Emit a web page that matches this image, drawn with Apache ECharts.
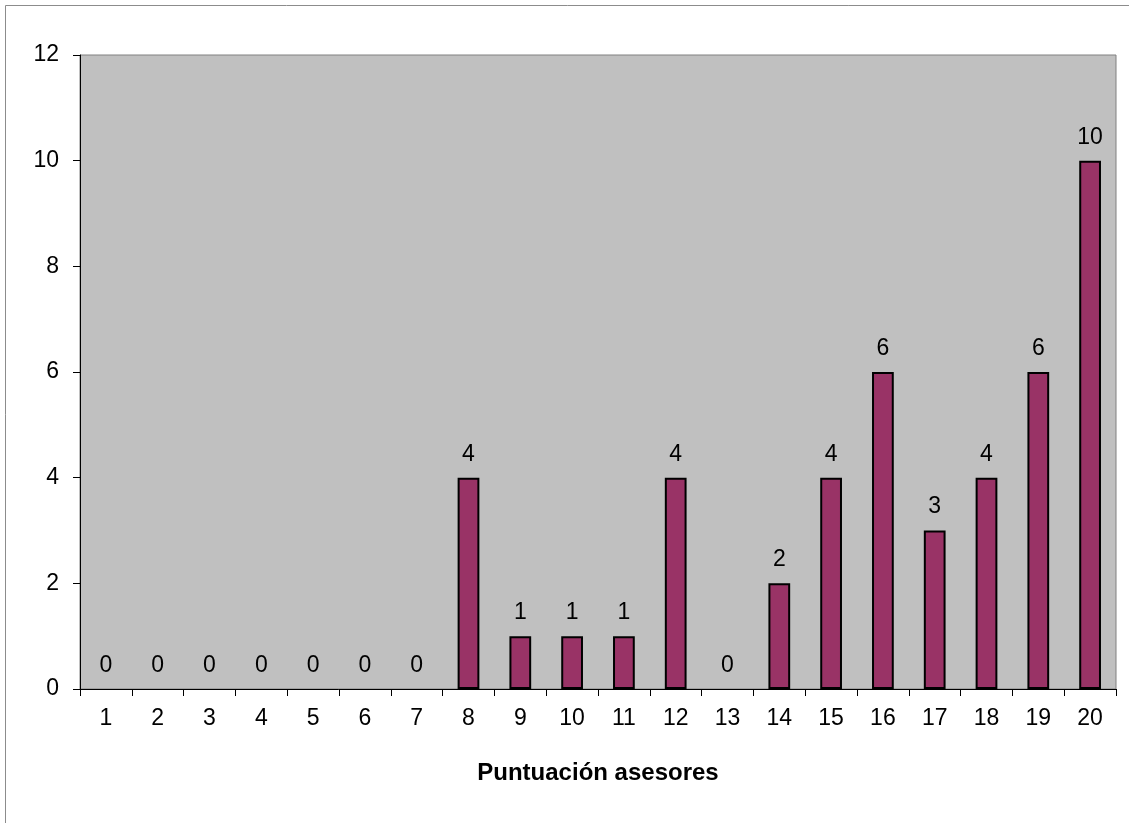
<!DOCTYPE html>
<html>
<head>
<meta charset="utf-8">
<script src="https://cdn.jsdelivr.net/npm/echarts@6/dist/echarts.min.js"></script>
<style>
  html, body { margin: 0; padding: 0; background: #fff; }
  #chart { width: 1129px; height: 823px; }
</style>
</head>
<body>
<div id="chart"></div>
<script>
// Puntuación asesores: frequency of each score (1–20)
const categories = ['1','2','3','4','5','6','7','8','9','10','11','12','13','14','15','16','17','18','19','20'];
const counts = [0, 0, 0, 0, 0, 0, 0, 4, 1, 1, 1, 4, 0, 2, 4, 6, 3, 4, 6, 10];
const yTicks = { min: 0, max: 12, interval: 2 };
const axisTitle = 'Puntuación asesores';

const chart = echarts.init(document.getElementById('chart'), null, { renderer: 'canvas' });
const font = 'Liberation Sans, Arial, sans-serif';

// zero-height bars get no outline so nothing shows on the baseline
const barData = counts.map(v => v === 0
  ? { value: v, itemStyle: { borderWidth: 0 } }
  : { value: v });

chart.setOption({
  animation: false,
  backgroundColor: '#ffffff',
  graphic: [{
    type: 'rect',
    shape: { x: 5.5, y: 5.5, width: 1200, height: 900 },
    style: { fill: 'none', stroke: '#8c8c8c', lineWidth: 1 },
    silent: true
  }],
  grid: {
    left: 80, right: 13, top: 55, bottom: 134,
    show: true,
    backgroundColor: '#c0c0c0',
    borderColor: '#808080',
    borderWidth: 1
  },
  xAxis: {
    type: 'category',
    data: categories,
    name: axisTitle,
    nameLocation: 'middle',
    nameGap: 72,
    nameTextStyle: { fontFamily: font, fontSize: 24, fontWeight: 'bold', color: '#000' },
    axisLine: { show: true, lineStyle: { color: '#000', width: 1 } },
    axisTick: { show: true, length: 7, alignWithLabel: false, lineStyle: { color: '#000' } },
    axisLabel: { fontFamily: font, fontSize: 23, color: '#000', margin: 18 },
    splitLine: { show: false }
  },
  yAxis: {
    type: 'value',
    min: yTicks.min, max: yTicks.max, interval: yTicks.interval,
    axisLine: { show: true, lineStyle: { color: '#000', width: 1 } },
    axisTick: { show: true, length: 7, lineStyle: { color: '#000' } },
    axisLabel: { fontFamily: font, fontSize: 23, color: '#000', margin: 21 },
    splitLine: { show: false }
  },
  series: [{
    type: 'bar',
    data: barData,
    barWidth: '42%',
    itemStyle: { color: '#993366', borderColor: '#000', borderWidth: 2 },
    label: {
      show: true,
      position: 'top',
      distance: 12,
      fontFamily: font,
      fontSize: 23,
      color: '#000'
    }
  }]
});
</script>
</body>
</html>
